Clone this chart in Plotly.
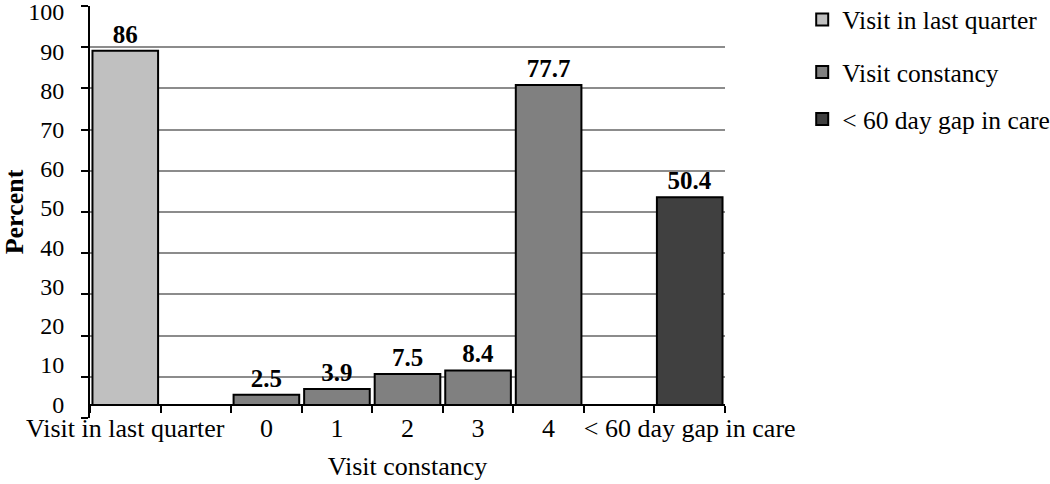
import plotly.graph_objects as go

# ---- data ----
quarter_cat = ["Visit in last quarter"]
quarter_val = [86]
constancy_cat = ["0", "1", "2", "3", "4"]
constancy_val = [2.5, 3.9, 7.5, 8.4, 77.7]
gap_cat = ["< 60 day gap in care"]
gap_val = [50.4]
category_order = ["Visit in last quarter", " ", "0", "1", "2", "3", "4", "  ", "< 60 day gap in care"]
y_ticks = list(range(0, 101, 10))

BASE = 3.15  # baseline offset seen in the original figure
LABEL_RANGE = [-3.5, 101.5]  # tick labels in the original drift slightly from their gridlines
FONT = "Liberation Serif, Times New Roman, serif"

fig = go.Figure()
series = [
    ("Visit in last quarter", quarter_cat, quarter_val, "#c0c0c0", "legend"),
    ("Visit constancy", constancy_cat, constancy_val, "#808080", "legend2"),
    ("< 60 day gap in care", gap_cat, gap_val, "#404040", "legend2"),
]
for name, xs, ys, col, lg in series:
    fig.add_trace(go.Bar(
        x=xs, y=ys, base=BASE, name=name, legend=lg, legendgroup=name,
        marker=dict(color=col, line=dict(color="black", width=2)),
        texttemplate="<b>%{y}</b>", textposition="outside",
        textfont=dict(family=FONT, size=25, color="black"),
        cliponaxis=False,
    ))
# empty helper so the tick-label axis is drawn (draws nothing itself)
fig.add_trace(go.Scatter(x=[], y=[], yaxis="y2", showlegend=False, hoverinfo="skip"))

leg_common = dict(xref="container", yref="container", xanchor="left", yanchor="middle",
                  font=dict(family=FONT, size=25.5, color="black"),
                  tracegroupgap=11, itemwidth=30, bgcolor="rgba(0,0,0,0)")

fig.update_layout(
    width=1050, height=484,
    margin=dict(l=90, r=325, t=6, b=66),
    plot_bgcolor="white", paper_bgcolor="white",
    barmode="overlay", bargap=0.07,
    font=dict(family=FONT, size=24, color="black"),
    showlegend=True,
    legend=dict(x=0.764, y=0.959, **leg_common),
    legend2=dict(x=0.764, y=0.802, **leg_common),
    xaxis=dict(
        type="category", categoryorder="array", categoryarray=category_order,
        range=[-0.5, 8.5], anchor="free", position=BASE / 100,
        showline=True, linecolor="black", linewidth=2,
        ticks="outside", tickson="boundaries", ticklen=7, tickwidth=2, tickcolor="black",
        showgrid=False, tickangle=0, automargin=False,
        tickfont=dict(family=FONT, size=26, color="black"),
        title=dict(text="Visit constancy", font=dict(family=FONT, size=26, color="black"), standoff=14),
    ),
    yaxis=dict(
        range=[0, 100], tickvals=y_ticks, automargin=False,
        showline=True, linecolor="black", linewidth=2,
        ticks="outside", ticklen=7, tickwidth=2, tickcolor="black",
        showticklabels=False,
        showgrid=True, gridcolor="#8c8c8c", gridwidth=1.5, zeroline=False,
        title=dict(text="<b>Percent</b>",
                   font=dict(family=FONT, size=26, color="black"), standoff=73),
    ),
    yaxis2=dict(
        overlaying="y", side="left", anchor="free", position=0,
        range=LABEL_RANGE, tickvals=y_ticks, automargin=False,
        showline=False, showgrid=False, zeroline=False,
        ticks="outside", ticklen=7, tickcolor="rgba(0,0,0,0)",
        ticklabelstandoff=14, ticklabeloverflow="allow",
        tickfont=dict(family=FONT, size=24, color="black"),
    ),
)

fig.write_html("out.html", config={"displayModeBar": False},
               post_script="document.body.style.margin='0';")
